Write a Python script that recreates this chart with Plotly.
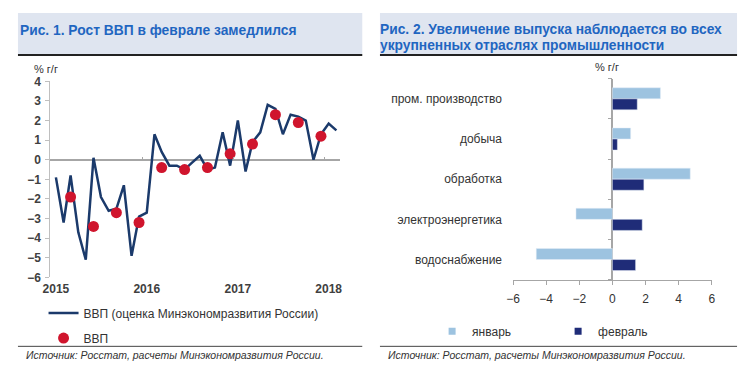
import plotly.graph_objects as go
import pandas as pd

# figure size (page minus the default 8px body margin on each side)
OFF = 8
W, H = 752 - 2 * OFF, 377 - 2 * OFF

# ---------------- data ----------------
months = pd.date_range("2015-01-01", periods=38, freq="MS")
gdp_est = [-0.9, -3.2, -0.8, -3.7, -5.1, 0.1, -1.9, -2.6, -2.5, -1.3, -4.9, -2.9,
           -2.7, 1.3, 0.4, -0.3, -0.3, -0.5, -0.15, 0.2, -0.5, -0.4, 1.4, -0.3,
           2.0, -0.6, 0.9, 1.4, 2.8, 2.6, 1.3, 2.3, 2.2, 2.0, 0.0, 1.3,
           1.85, 1.5]
quarters = ["2015-03-01", "2015-06-01", "2015-09-01", "2015-12-01",
            "2016-03-01", "2016-06-01", "2016-09-01", "2016-12-01",
            "2017-03-01", "2017-06-01", "2017-09-01", "2017-12-01"]
gdp_q = [-1.9, -3.4, -2.7, -3.2, -0.4, -0.5, -0.4, 0.3, 0.8, 2.3, 1.9, 1.2]
year_ticks = ["2015-01-01", "2016-01-01", "2017-01-01", "2018-01-01"]
year_labels = ["2015", "2016", "2017", "2018"]
year_bounds = ["2015-12-16", "2016-12-16", "2017-12-16"]

sectors = ["пром. производство", "добыча", "обработка", "электроэнергетика", "водоснабжение"]
jan = [2.9, 1.1, 4.7, -2.2, -4.6]
feb = [1.5, 0.3, 1.9, 1.8, 1.4]

# ---------------- style ----------------
NAVY_LINE = "#1B3A6B"
RED = "#D0152D"
LIGHT = "#9DC3E0"
DARK = "#1F2C78"
GREY = "#A6A6A6"
TXT = "#333333"
TITLE = "#1F66C1"
BAR_BG = "#DFE5F0"
FONT = "Liberation Sans, Arial, sans-serif"

def px(x):
    return (x - OFF) / W

def py(y):
    return 1 - (y - OFF) / H

fig = go.Figure()

# left chart
fig.add_trace(go.Scatter(x=months, y=gdp_est, mode="lines",
                         line=dict(color=NAVY_LINE, width=2.5),
                         name="ВВП (оценка Минэкономразвития России)",
                         xaxis="x", yaxis="y", legend="legend", legendgroup="a"))
fig.add_trace(go.Scatter(x=quarters, y=gdp_q, mode="markers",
                         marker=dict(color=RED, size=11),
                         name="ВВП", xaxis="x", yaxis="y", legend="legend", legendgroup="b"))
fig.add_trace(go.Scatter(x=[None], y=[None], xaxis="x2", yaxis="y",
                         showlegend=False, hoverinfo="skip"))

# right chart
fig.add_trace(go.Bar(y=sectors, x=jan, orientation="h", marker_color=LIGHT,
                     name="январь", xaxis="x3", yaxis="y3", showlegend=False))
fig.add_trace(go.Bar(y=sectors, x=feb, orientation="h", marker_color=DARK,
                     name="февраль", xaxis="x3", yaxis="y3", showlegend=False))
fig.add_trace(go.Scatter(x=[None], y=[None], mode="markers",
                         marker=dict(symbol="square", size=7, color=LIGHT),
                         name="январь", xaxis="x3", yaxis="y3", legend="legend2"))
fig.add_trace(go.Scatter(x=[None], y=[None], mode="markers",
                         marker=dict(symbol="square", size=7, color=DARK),
                         name="февраль", xaxis="x3", yaxis="y3", legend="legend2"))
fig.add_trace(go.Scatter(x=[None], y=[None], xaxis="x3", yaxis="y4",
                         showlegend=False, hoverinfo="skip"))

left_dom_x = [px(43), px(337)]
left_dom_y = [py(281), py(77)]
right_dom_x = [px(513.3), px(715.3)]
right_dom_y = [py(283.3), py(74.3)]

fig.update_layout(
    width=W, height=H,
    margin=dict(l=0, r=0, t=0, b=0),
    paper_bgcolor="white", plot_bgcolor="white",
    font=dict(family=FONT, size=11, color=TXT),
    bargap=0.45, bargroupgap=0,
    barmode="group",
    xaxis=dict(domain=left_dom_x, anchor="y", type="date",
               range=["2014-12-10", "2018-02-14"],
               tickvals=year_ticks, ticktext=year_labels,
               showgrid=False, zeroline=False, showline=False, ticks="",
               ticklabelstandoff=3,
               tickfont=dict(size=12, color="#404040", weight="bold")),
    xaxis2=dict(overlaying="x", matches="x", anchor="free",
                position=py(158.5), side="top", type="date",
                tickvals=year_bounds, showticklabels=False,
                ticks="outside", ticklen=3, tickcolor=GREY, tickwidth=1,
                showgrid=False, zeroline=False, showline=False),
    yaxis=dict(domain=left_dom_y, anchor="x", range=[-6, 4],
               tickvals=list(range(-6, 5)), showgrid=False,
               zeroline=True, zerolinecolor=GREY, zerolinewidth=1.5,
               showline=True, linecolor="#BFBFBF", linewidth=1,
               ticks="outside", ticklen=4, tickcolor="#BFBFBF",
               ticklabelstandoff=2,
               tickfont=dict(size=12, color="#404040", weight="bold")),
    xaxis3=dict(domain=right_dom_x, anchor="y3", range=[-6, 6],
                tickvals=[-6, -4, -2, 0, 2, 4, 6], showgrid=False,
                zeroline=True, zerolinecolor=GREY, zerolinewidth=1.5,
                showline=True, linecolor=GREY, linewidth=1,
                ticks="outside", ticklen=4, tickcolor=GREY,
                ticklabelstandoff=4,
                tickfont=dict(size=12, color=TXT)),
    yaxis3=dict(domain=right_dom_y, anchor="x3", type="category",
                categoryorder="array", categoryarray=sectors,
                autorange="reversed", showgrid=False, zeroline=False,
                showline=False, ticks="", ticklabelstandoff=10,
                tickfont=dict(size=12, color=TXT)),
    yaxis4=dict(overlaying="y3", anchor="free", position=px(614.3),
                range=[4.5, -0.5], tickvals=[-0.5, 0.5, 1.5, 2.5, 3.5, 4.5],
                showticklabels=False, ticks="outside", ticklen=4, tickcolor=GREY,
                showline=False, showgrid=False, zeroline=False),
    legend=dict(x=px(36), y=py(303), xanchor="left", yanchor="top",
                orientation="v", bgcolor="rgba(0,0,0,0)",
                font=dict(size=12, color=TXT), itemwidth=30,
                tracegroupgap=6),
    legend2=dict(x=px(431), y=py(322), xanchor="left", yanchor="top",
                 orientation="h", bgcolor="rgba(0,0,0,0)",
                 font=dict(size=12, color=TXT), itemwidth=30,
                 entrywidth=81, entrywidthmode="pixels"),
    showlegend=True,
)

shapes = []
for a, b in [(10, 360), (378, 741)]:
    shapes.append(dict(type="rect", xref="paper", yref="paper", x0=px(a), x1=px(b),
                       y0=py(49), y1=py(6), fillcolor=BAR_BG, line=dict(width=0), layer="below"))
    shapes.append(dict(type="line", xref="paper", yref="paper", x0=px(a), x1=px(b),
                       y0=py(49.5), y1=py(49.5), line=dict(color="#222222", width=2)))
    shapes.append(dict(type="line", xref="paper", yref="paper", x0=px(a), x1=px(b),
                       y0=py(352.7), y1=py(352.7), line=dict(color="#444444", width=1)))
fig.update_layout(shapes=shapes)

ann = [
    dict(text="<b>Рис. 1. Рост ВВП в феврале замедлился</b>", x=px(10), y=py(24),
         xanchor="left", yanchor="middle", font=dict(size=13.8, color=TITLE)),
    dict(text="<b>Рис. 2. Увеличение выпуска наблюдается во всех</b>", x=px(376), y=py(23.5),
         xanchor="left", yanchor="middle", font=dict(size=13.8, color=TITLE)),
    dict(text="<b>укрупненных отраслях промышленности</b>", x=px(376), y=py(39.5),
         xanchor="left", yanchor="middle", font=dict(size=13.8, color=TITLE)),
    dict(text="% г/г", x=px(24), y=py(64), xanchor="left", yanchor="middle",
         font=dict(size=11, color=TXT)),
    dict(text="% г/г", x=px(609), y=py(62), xanchor="center", yanchor="middle",
         font=dict(size=11, color=TXT)),
    dict(text="<i>Источник: Росстат, расчеты Минэкономразвития России.</i>", x=px(16), y=py(362),
         xanchor="left", yanchor="middle", font=dict(size=10.5, color=TXT)),
    dict(text="<i>Источник: Росстат, расчеты Минэкономразвития России.</i>", x=px(384), y=py(362),
         xanchor="left", yanchor="middle", font=dict(size=10.5, color=TXT)),
]
for a in ann:
    a.update(xref="paper", yref="paper", showarrow=False, align="left")
fig.update_layout(annotations=ann)

fig.write_html("out.html")
